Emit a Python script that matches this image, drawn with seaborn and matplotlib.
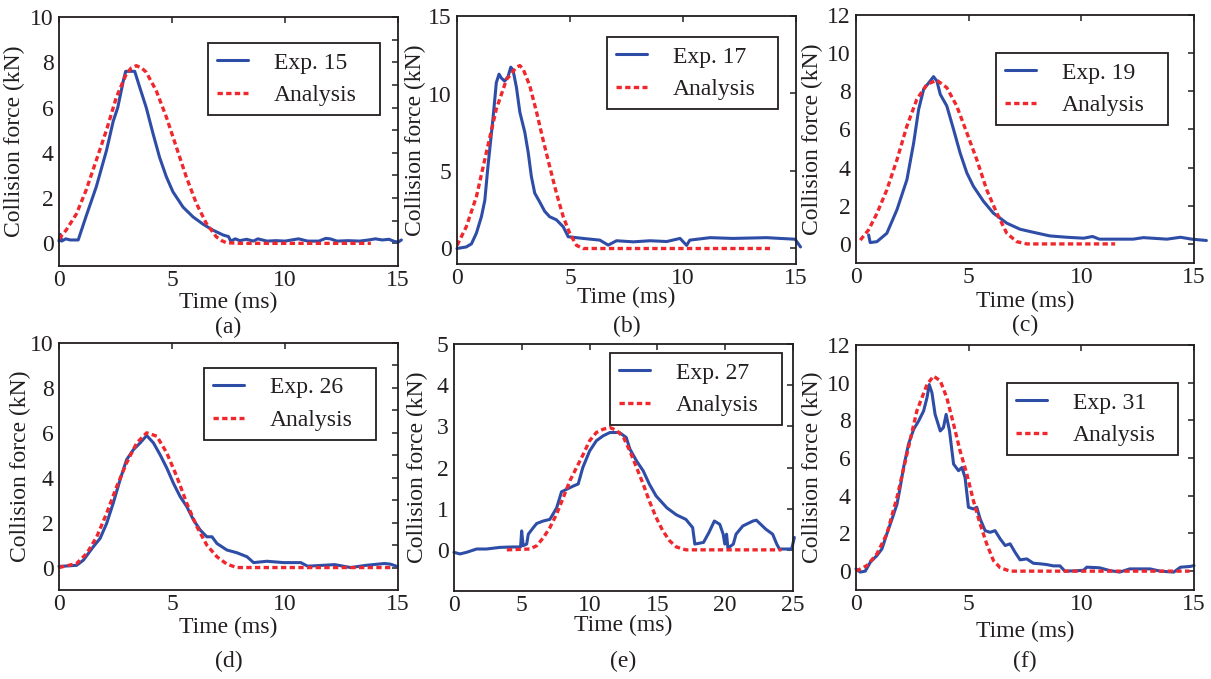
import matplotlib
matplotlib.use("Agg")
import matplotlib.pyplot as plt
from matplotlib.ticker import MultipleLocator, FixedLocator
import seaborn as sns

# ---------------- data ----------------
exp15_t = [0.0, 0.05, 0.12, 0.3, 0.5, 0.85, 1.2, 1.65, 2.1, 2.4, 2.6, 2.85, 2.95, 3.35, 3.57, 3.86, 4.16, 4.45, 4.75, 5.04, 5.49, 5.93, 6.37, 6.8, 7.26, 7.5, 7.6, 7.8, 8.0, 8.3, 8.6, 8.8, 9.2, 9.6, 10.0, 10.3, 10.6, 11.0, 11.5, 11.8, 12.0, 12.3, 12.8, 13.3, 13.7, 14.0, 14.3, 14.6, 14.8, 15.0, 15.15]
exp15_f = [0.1, 0.4, 0.1, 0.2, 0.15, 0.15, 1.2, 2.5, 4.1, 5.4, 6.0, 7.2, 7.6, 7.6, 6.9, 6.0, 4.85, 3.8, 2.94, 2.28, 1.6, 1.17, 0.85, 0.59, 0.37, 0.3, 0.1, 0.2, 0.12, 0.18, 0.1, 0.2, 0.1, 0.12, 0.1, 0.15, 0.2, 0.1, 0.1, 0.22, 0.2, 0.1, 0.12, 0.1, 0.15, 0.2, 0.15, 0.18, 0.1, 0.05, 0.15]
ana15_t = [0.0, 0.32, 0.77, 1.2, 1.65, 2.1, 2.54, 2.98, 3.2, 3.42, 3.65, 3.86, 4.3, 4.75, 5.19, 5.63, 6.08, 6.52, 6.96, 7.2, 7.4, 8.0, 13.8]
ana15_f = [0.2, 0.59, 1.3, 2.35, 3.67, 5.0, 6.46, 7.49, 7.75, 7.85, 7.75, 7.56, 6.75, 5.58, 4.26, 2.94, 1.76, 0.88, 0.29, 0.12, 0.03, 0.0, 0.0]

exp17_t = [0.0, 0.41, 0.64, 0.86, 1.08, 1.23, 1.37, 1.6, 1.74, 1.86, 1.96, 2.11, 2.26, 2.38, 2.48, 2.63, 2.78, 3.0, 3.15, 3.29, 3.44, 3.66, 3.88, 4.1, 4.4, 4.7, 4.92, 5.58, 6.32, 6.69, 7.06, 7.8, 8.54, 9.28, 9.87, 10.16, 10.3, 11.2, 12.2, 13.7, 14.3, 14.96, 15.2]
exp17_f = [0.0, 0.1, 0.3, 1.0, 2.05, 3.1, 5.3, 8.5, 10.7, 11.25, 11.0, 10.8, 11.1, 11.7, 11.5, 10.4, 8.8, 7.5, 6.2, 4.65, 3.57, 3.0, 2.4, 2.05, 1.85, 1.4, 0.76, 0.65, 0.54, 0.22, 0.5, 0.43, 0.5, 0.45, 0.65, 0.2, 0.54, 0.7, 0.65, 0.7, 0.65, 0.6, 0.1]
ana17_t = [0.0, 0.41, 0.86, 1.3, 1.74, 2.19, 2.63, 2.78, 2.92, 3.22, 3.52, 3.81, 4.1, 4.4, 4.7, 4.99, 5.29, 5.58, 13.85]
ana17_f = [0.2, 1.4, 3.35, 6.2, 9.0, 10.9, 11.7, 11.8, 11.6, 10.5, 8.8, 7.0, 5.3, 3.57, 2.05, 0.97, 0.2, 0.0, 0.0]

exp19_t = [0.56, 0.63, 0.93, 1.37, 1.82, 2.26, 2.56, 2.78, 3.0, 3.29, 3.44, 3.59, 3.74, 4.03, 4.33, 4.62, 4.92, 5.21, 5.66, 6.1, 6.69, 7.28, 7.87, 8.6, 9.35, 10.1, 10.5, 10.8, 12.3, 12.75, 13.8, 14.4, 14.9, 15.55]
exp19_f = [0.47, 0.07, 0.12, 0.56, 1.8, 3.37, 5.3, 7.05, 8.1, 8.54, 8.77, 8.54, 7.84, 7.23, 6.0, 4.77, 3.72, 3.02, 2.23, 1.61, 1.09, 0.77, 0.61, 0.42, 0.35, 0.3, 0.39, 0.25, 0.25, 0.33, 0.25, 0.35, 0.25, 0.18]
ana19_t = [0.19, 0.56, 0.93, 1.37, 1.82, 2.26, 2.7, 3.15, 3.59, 4.03, 4.47, 4.92, 5.36, 5.8, 6.25, 6.69, 7.13, 7.58, 11.5]
ana19_f = [0.2, 0.74, 1.6, 2.84, 4.42, 6.18, 7.58, 8.37, 8.58, 8.19, 7.23, 5.82, 4.42, 2.84, 1.61, 0.56, 0.12, 0.0, 0.0]

exp26_t = [0.0, 0.5, 0.78, 1.08, 1.52, 1.82, 2.11, 2.4, 2.7, 2.99, 3.29, 3.59, 3.88, 4.18, 4.47, 4.77, 5.06, 5.36, 5.65, 5.95, 6.25, 6.54, 6.77, 6.99, 7.43, 7.87, 8.32, 8.61, 9.2, 9.94, 10.7, 11.0, 12.2, 12.9, 13.6, 14.4, 14.67, 14.96]
exp26_f = [0.05, 0.08, 0.1, 0.33, 0.93, 1.3, 1.97, 2.87, 3.9, 4.8, 5.25, 5.55, 5.88, 5.55, 5.03, 4.43, 3.76, 3.16, 2.72, 2.12, 1.67, 1.37, 1.37, 1.07, 0.78, 0.66, 0.48, 0.22, 0.28, 0.22, 0.22, 0.06, 0.13, 0.0, 0.1, 0.18, 0.15, 0.05]
ana26_t = [0.0, 0.78, 1.23, 1.67, 2.11, 2.55, 2.99, 3.44, 3.88, 4.33, 4.77, 5.21, 5.65, 6.1, 6.54, 6.99, 7.43, 7.87, 14.8]
ana26_f = [0.0, 0.18, 0.63, 1.37, 2.42, 3.6, 4.66, 5.55, 6.0, 5.85, 5.1, 4.06, 2.87, 1.82, 1.0, 0.48, 0.15, 0.0, 0.0]

exp27_t = [0.0, 0.44, 0.93, 1.67, 2.4, 3.4, 4.37, 4.91, 4.99, 5.1, 5.36, 5.48, 5.85, 6.1, 6.58, 7.07, 7.57, 7.93, 8.3, 8.8, 9.16, 9.5, 10.0, 10.5, 11.0, 11.5, 12.2, 12.7, 12.97, 13.46, 13.95, 14.4, 14.9, 15.7, 16.4, 17.1, 17.6, 17.76, 18.4, 18.8, 19.2, 19.6, 19.85, 19.97, 20.1, 20.2, 20.6, 20.8, 21.3, 22.05, 22.3, 23.0, 23.5, 23.8, 24.0, 24.9, 25.1]
exp27_f = [-0.06, -0.1, -0.06, 0.02, 0.02, 0.06, 0.07, 0.07, 0.46, 0.1, 0.14, 0.38, 0.54, 0.64, 0.7, 0.74, 1.02, 1.41, 1.47, 1.55, 1.6, 2.0, 2.4, 2.65, 2.77, 2.85, 2.85, 2.73, 2.45, 2.16, 1.92, 1.6, 1.31, 1.02, 0.85, 0.74, 0.54, 0.14, 0.18, 0.42, 0.7, 0.62, 0.38, 0.14, 0.38, 0.04, 0.14, 0.38, 0.58, 0.7, 0.72, 0.5, 0.38, 0.14, 0.02, 0.02, 0.3]
ana27_t = [3.9, 5.6, 6.1, 6.6, 7.07, 7.57, 8.06, 8.55, 9.04, 9.53, 10.0, 10.5, 11.0, 11.5, 12.0, 12.5, 12.97, 13.46, 13.95, 14.4, 14.9, 15.4, 15.9, 16.4, 17.1, 24.15]
ana27_f = [0.0, 0.02, 0.1, 0.3, 0.54, 0.87, 1.27, 1.68, 2.0, 2.32, 2.65, 2.85, 2.93, 2.97, 2.9, 2.73, 2.4, 2.0, 1.6, 1.19, 0.79, 0.46, 0.22, 0.07, 0.0, 0.0]

exp31_t = [0.0, 0.19, 0.41, 0.64, 0.93, 1.15, 1.37, 1.6, 1.82, 1.96, 2.11, 2.33, 2.56, 2.78, 3.0, 3.15, 3.25, 3.37, 3.51, 3.74, 3.88, 4.0, 4.15, 4.33, 4.55, 4.7, 4.84, 4.99, 5.21, 5.36, 5.51, 5.73, 5.95, 6.17, 6.4, 6.62, 6.84, 7.06, 7.28, 7.58, 7.87, 8.17, 8.46, 8.76, 9.05, 9.27, 9.8, 10.1, 10.24, 10.8, 11.27, 11.7, 12.15, 13.05, 13.5, 14.1, 14.4, 14.84, 15.0]
exp31_f = [0.12, -0.05, 0.0, 0.48, 0.83, 1.18, 1.98, 2.77, 3.56, 4.44, 5.5, 6.74, 7.53, 7.97, 8.5, 9.2, 9.9, 9.47, 8.32, 7.44, 7.62, 8.32, 7.44, 5.68, 5.33, 5.5, 4.97, 3.39, 3.3, 3.39, 2.77, 2.15, 2.06, 2.15, 1.71, 1.36, 1.45, 1.0, 0.6, 0.65, 0.42, 0.39, 0.35, 0.28, 0.28, 0.0, 0.02, 0.05, 0.21, 0.18, 0.03, -0.05, 0.12, 0.12, 0.0, -0.05, 0.21, 0.25, 0.3]
ana31_t = [0.0, 0.49, 0.93, 1.37, 1.82, 2.26, 2.7, 3.15, 3.44, 3.74, 4.03, 4.33, 4.62, 4.92, 5.21, 5.51, 5.8, 6.1, 6.4, 6.84, 14.8]
ana31_f = [0.0, 0.3, 0.92, 1.98, 3.92, 6.21, 8.5, 9.9, 10.35, 10.1, 9.2, 7.8, 6.38, 5.15, 3.74, 2.5, 1.45, 0.56, 0.18, 0.0, 0.0]

exp_labels = ["Exp. 15", "Exp. 17", "Exp. 19", "Exp. 26", "Exp. 27", "Exp. 31"]
analysis_label = "Analysis"
captions = ["(a)", "(b)", "(c)", "(d)", "(e)", "(f)"]
x_label = "Time (ms)"
y_label = "Collision force (kN)"

# ---------------- style ----------------
sns.set_style("white")
plt.rcParams["font.family"] = ["Liberation Serif", "DejaVu Serif"]
TXT = "#231F20"
BLUE = "#2E4DA7"
RED = "#F0282D"
FS = 17
plt.rcParams.update({
    "text.color": TXT, "axes.labelcolor": TXT,
    "xtick.color": TXT, "ytick.color": TXT,
    "axes.edgecolor": TXT, "axes.linewidth": 1.3,
})

W, H = 1211, 679
fig = plt.figure(figsize=(W / 100, H / 100), dpi=100)
fig.patch.set_facecolor("white")

# panel settings (layout only)
panels = [
    dict(rect=(59, 17, 398, 266), exp=(exp15_t, exp15_f), ana=(ana15_t, ana15_f),
         xlim=(0, 15), xstep=5, ylim=(-1, 10), ymaj=[0, 2, 4, 6, 8, 10], ymin=[1, 3, 5, 7, 9],
         leg=(208, 43, 380, 114), ylx=-0.13, xly=-0.145, capy=-0.245),
    dict(rect=(457, 16, 796, 264), exp=(exp17_t, exp17_f), ana=(ana17_t, ana17_f),
         xlim=(0, 15), xstep=5, ylim=(-1, 15), ymaj=[0, 5, 10, 15], ymin=[],
         leg=(607, 37, 778, 107), ylx=-0.124, xly=-0.133, capy=-0.253),
    dict(rect=(856, 15, 1194, 263), exp=(exp19_t, exp19_f), ana=(ana19_t, ana19_f),
         xlim=(0, 15), xstep=5, ylim=(-1, 12), ymaj=[0, 2, 4, 6, 8, 10, 12], ymin=[],
         leg=(996, 53, 1168, 123), ylx=-0.13, xly=-0.157, capy=-0.25),
    dict(rect=(59, 343, 398, 590), exp=(exp26_t, exp26_f), ana=(ana26_t, ana26_f),
         xlim=(0, 15), xstep=5, ylim=(-1, 10), ymaj=[0, 2, 4, 6, 8, 10], ymin=[1, 3, 5, 7, 9],
         leg=(204, 368, 376, 438), ylx=-0.115, xly=-0.15, capy=-0.291),
    dict(rect=(454, 344, 793, 591), exp=(exp27_t, exp27_f), ana=(ana27_t, ana27_f),
         xlim=(0, 25), xstep=5, ylim=(-1, 5), ymaj=[0, 1, 2, 3, 4, 5], ymin=[],
         leg=(610, 353, 782, 423), ylx=-0.109, xly=-0.138, capy=-0.287),
    dict(rect=(856, 345, 1194, 590), exp=(exp31_t, exp31_f), ana=(ana31_t, ana31_f),
         xlim=(0, 15), xstep=5, ylim=(-1, 12), ymaj=[0, 2, 4, 6, 8, 10, 12], ymin=[],
         leg=(1007, 383, 1178, 453), ylx=-0.13, xly=-0.171, capy=-0.29),
]

for i, p in enumerate(panels):
    l, t, r, b = p["rect"]
    ax = fig.add_axes([l / W, 1 - b / H, (r - l) / W, (b - t) / H])
    ax.set_facecolor("white")

    et, ef = p["exp"]
    at, af = p["ana"]
    sns.lineplot(x=et, y=ef, ax=ax, color=BLUE, linewidth=2.2, label=exp_labels[i],
                 sort=False, errorbar=None, estimator=None)
    ln_exp = ax.lines[-1]
    ln_exp.set_clip_on(False)
    sns.lineplot(x=at, y=af, ax=ax, color=RED, linewidth=2.4, label=analysis_label,
                 sort=False, errorbar=None, estimator=None)
    ln_ana = ax.lines[-1]
    ln_ana.set_linestyle((0, (1.6, 1.0)))
    ln_ana.set_dash_capstyle("butt")

    ax.set_xlim(*p["xlim"])
    ax.set_ylim(*p["ylim"])
    ax.xaxis.set_major_locator(MultipleLocator(p["xstep"]))
    ax.yaxis.set_major_locator(FixedLocator(p["ymaj"]))
    if p["ymin"]:
        ax.yaxis.set_minor_locator(FixedLocator(p["ymin"]))
    ax.tick_params(axis="both", which="both", direction="in", top=True, right=True,
                   length=4, width=1.1, labelsize=FS, pad=4)
    ax.tick_params(axis="x", pad=3)
    for s in ax.spines.values():
        s.set_visible(True)
        s.set_color(TXT)
        s.set_linewidth(1.3)

    ax.set_xlabel(x_label, fontsize=FS)
    ax.xaxis.label.set_va("center")
    ax.xaxis.set_label_coords(0.5, p["xly"])
    ax.set_ylabel(y_label, fontsize=FS)
    ax.yaxis.label.set_va("center")
    ax.yaxis.set_label_coords(p["ylx"], 0.5)
    ax.text(0.5, p["capy"], captions[i], transform=ax.transAxes, ha="center",
            va="center", fontsize=FS, color=TXT)

    # legend
    gl, gt, gr, gb = p["leg"]
    x0 = (gl - l) / (r - l)
    x1 = (gr - l) / (r - l)
    y1 = (b - gt) / (b - t)
    y0 = (b - gb) / (b - t)
    leg = ax.legend(loc="upper left", bbox_to_anchor=(x0, y0, x1 - x0, y1 - y0),
                    mode="expand", borderaxespad=0, fontsize=FS, frameon=True,
                    fancybox=False, shadow=False, framealpha=1, edgecolor=TXT,
                    handlelength=1.3, handletextpad=1.1, borderpad=0.38,
                    labelspacing=0.47)
    leg.get_frame().set_linewidth(1.3)

fig.savefig("out.png", dpi=100, facecolor="white")
